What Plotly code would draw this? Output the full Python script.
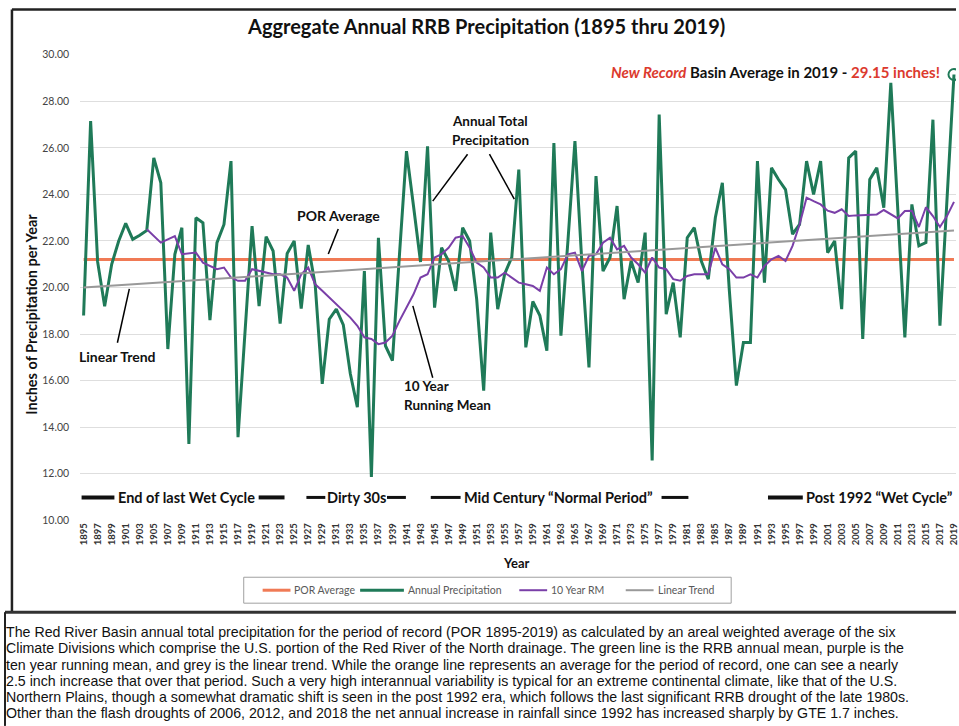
import plotly.graph_objects as go

# Red River Basin annual precipitation (inches)
YEARS = list(range(1895, 2020))
PRECIP = [
    18.8, 27.15, 21.1, 19.2, 21.0,
    22.0, 22.76, 22.07, 22.25, 22.45, 25.57, 24.5, 17.36, 21.43, 22.57,
    13.28, 23.0, 22.78, 18.6, 21.93, 22.71, 25.43, 13.57, 18.3, 22.64,
    19.2, 22.19, 21.57, 18.45, 21.46, 22.0, 19.1, 21.83, 20.1, 15.86,
    18.64, 19.07, 18.4, 16.3, 14.86, 20.71, 11.86, 22.14, 17.5, 16.86,
    21.4, 25.86, 23.5, 21.1, 26.07, 19.14, 21.71, 21.14, 19.86, 22.57,
    22.0, 19.5, 15.57, 22.36, 19.07, 20.6, 21.3, 25.07, 17.43, 19.4,
    18.8, 17.29, 26.21, 17.93, 22.0, 26.29, 21.0, 16.57, 24.79, 20.71,
    21.29, 23.5, 19.5, 21.14, 20.21, 22.36, 12.57, 27.43, 18.86, 20.21,
    17.86, 22.14, 22.57, 21.14, 20.36, 23.0, 24.5, 19.86, 15.79, 17.64,
    17.64, 25.43, 20.21, 25.14, 24.64, 24.21, 22.29, 22.71, 25.43, 24.0,
    25.43, 21.5, 22.0, 19.07, 25.57, 25.86, 17.79, 24.64, 25.14, 23.43,
    28.79, 23.5, 17.86, 23.57, 21.79, 21.93, 27.21, 18.36, 23.6, 29.15,
]

# 10 year running mean (starts 1904)
RM_YEARS = list(range(1904, 2020))
RM_10YR = [
    22.5, 22.2, 21.93, 22.07, 22.21, 21.43,
    21.46, 21.5, 21.07, 20.93, 20.79, 20.86, 20.43, 20.29, 20.29, 20.79,
    20.71, 20.64, 20.57, 20.57, 20.43, 19.86, 20.57, 20.86, 20.14, 19.86,
    19.57, 19.29, 19.0, 18.71, 18.36, 17.86, 17.79, 17.57, 17.64, 17.93,
    18.57, 19.14, 19.71, 20.43, 20.57, 21.29, 21.43, 21.71, 22.14, 22.21,
    21.71, 21.07, 20.86, 20.43, 20.43, 20.64, 20.43, 20.21, 20.14, 20.07,
    19.86, 20.86, 20.57, 20.79, 21.43, 21.5, 20.71, 21.36, 21.43, 21.93,
    22.14, 21.64, 21.79, 21.29, 21.0, 20.64, 21.29, 20.86, 20.79, 20.36,
    20.29, 20.5, 20.57, 20.57, 20.57, 21.71, 21.0, 20.79, 20.43, 20.43,
    20.57, 20.43, 20.93, 21.21, 21.36, 21.14, 21.79, 22.71, 23.86, 23.71,
    23.57, 23.3, 23.21, 23.36, 23.07, 23.1, 23.11, 23.14, 23.14, 23.33,
    23.14, 22.97, 23.29, 23.3, 22.6, 23.45, 23.07, 22.6, 23.07, 23.68,
]

POR_YEARS = [1895, 2019]
POR_AVG = [21.2, 21.2]
TREND_YEARS = [1895, 2019]
TREND_VALUES = [20.0, 22.45]

TICK_YEARS = YEARS[::2]
TICK_TEXT = [str(y) for y in TICK_YEARS]

CAPTION = [
    "The Red River Basin annual total precipitation for the period of record (POR 1895-2019) as calculated by an areal weighted average of the six",
    "Climate Divisions which comprise the U.S. portion of the Red River of the North drainage. The green line is the RRB annual mean, purple is the",
    "ten year running mean, and grey is the linear trend. While the orange line represents an average for the period of record, one can see a nearly",
    "2.5 inch increase that over that period. Such a very high interannual variability is typical for an extreme continental climate, like that of the U.S.",
    "Northern Plains, though a somewhat dramatic shift is seen in the post 1992 era, which follows the last significant RRB drought of the late 1980s.",
    "Other than the flash droughts of 2006, 2012, and 2018 the net annual increase in rainfall since 1992 has increased sharply by GTE 1.7 inches.",
]

W, H = 959, 726
FONT = "Lato, 'Open Sans', sans-serif"
CAPTION_FONT = "'Liberation Sans', Arial, sans-serif"
GREEN = "#1f7a58"
ORANGE = "#f07a55"
PURPLE = "#7a3fa8"
GREY = "#999999"
RED = "#dc3a2e"

# the photographed page came out slightly squashed vertically, undo it
SQ, OFF = 0.9857, 4.46


def px(x):
    return x / W


def py(y):
    return 1 - ((y - OFF) / SQ) / H


fig = go.Figure()

fig.add_trace(go.Scatter(x=POR_YEARS, y=POR_AVG, mode="lines", name="POR Average",
                         line=dict(color=ORANGE, width=3)))
fig.add_trace(go.Scatter(x=YEARS, y=PRECIP, mode="lines", name="Annual Precipitation",
                         line=dict(color=GREEN, width=3)))
fig.add_trace(go.Scatter(x=RM_YEARS, y=RM_10YR, mode="lines", name="10 Year RM",
                         line=dict(color=PURPLE, width=2)))
fig.add_trace(go.Scatter(x=TREND_YEARS, y=TREND_VALUES, mode="lines", name="Linear Trend",
                         line=dict(color=GREY, width=2)))
# circle on the record year
fig.add_trace(go.Scatter(x=YEARS[-1:], y=PRECIP[-1:], mode="markers", showlegend=False,
                         marker=dict(symbol="circle-open", size=11, color=GREEN,
                                     line=dict(width=2, color=GREEN))))

shapes = []


def seg(x0, y0, x1, y1, width=1.5, color="black"):
    shapes.append(dict(type="line", xref="paper", yref="paper",
                       x0=px(x0), y0=py(y0), x1=px(x1), y1=py(y1),
                       line=dict(color=color, width=width)))


# frame
seg(10, 8, 959, 8, 2.5, "#222")
seg(10, 8, 10, 612, 2.5, "#222")
seg(3, 612, 959, 612, 3, "#333")
seg(3, 612, 3, 726, 2, "#222")

# pointer lines
seg(468, 153, 433, 200)
seg(490, 153, 515, 198)
seg(338, 228, 328, 253)
seg(128, 288, 116, 342)
seg(413, 305, 433, 377)

# period bars
for x0, x1, w in [(80, 113, 4), (258, 284, 4), (306, 325, 3), (387, 406, 3),
                  (431, 461, 3), (663, 690, 3), (770, 805, 4)]:
    seg(x0, 497, x1, 497, w, "#111")

annotations = []


def label(text, x, y, size=12, anchor="left", bold=True, color="#111", angle=0, family=FONT):
    annotations.append(dict(text=text, xref="paper", yref="paper", x=px(x), y=py(y),
                            xanchor=anchor, yanchor="middle", showarrow=False,
                            textangle=angle,
                            font=dict(family=family, size=size, color=color,
                                      weight="bold" if bold else "normal")))


label("Aggregate Annual RRB Precipitation (1895 thru 2019)", 487, 25, 20, "center")
label("<i><span style='color:%s'>New Record</span></i> Basin Average in 2019 - "
      "<span style='color:%s'>29.15 inches!</span>" % (RED, RED), 945, 71, 15, "right")
label("Annual Total", 491, 120, 13.5, "center")
label("Precipitation", 491, 139, 13.5, "center")
label("POR Average", 338, 214, 14, "center")
label("Linear Trend", 75, 356, 14)
label("10 Year", 402, 385, 13.5)
label("Running Mean", 402, 404, 13.5)
label("End of last Wet Cycle", 115, 497, 14.5)
label("Dirty 30s", 325, 497, 14.5)
label("Mid Century “Normal Period”", 462, 497, 14.5)
label("Post 1992 “Wet Cycle”", 806, 497, 14.5)
label("Inches of Precipitation per Year", 30, 313, 14.5, "center", angle=-90)
label("Year", 517, 563, 13, "center")

# legend, drawn by hand to keep Excel's spacing
shapes.append(dict(type="rect", xref="paper", yref="paper",
                   x0=px(243), y0=py(603), x1=px(733), y1=py(577),
                   line=dict(color="#a0a0a0", width=1), fillcolor="white"))
for name, color, width, x0, x1 in [("POR Average", ORANGE, 3, 262, 290),
                                   ("Annual Precipitation", GREEN, 3, 360, 404),
                                   ("10 Year RM", PURPLE, 2, 520, 548),
                                   ("Linear Trend", GREY, 2, 627, 655)]:
    seg(x0, 590, x1, 590, width, color)
    label(name, x1 + 2, 590, 10.5, bold=False, color="#595959")

for i, line in enumerate(CAPTION):
    label(line, 2, 632 + i * 16.3, 14.2, bold=False, family=CAPTION_FONT)

fig.update_layout(
    width=W, height=H,
    margin=dict(l=0, r=0, t=0, b=0),
    paper_bgcolor="white", plot_bgcolor="white",
    shapes=shapes, annotations=annotations,
    font=dict(family=FONT),
    showlegend=False,
    xaxis=dict(domain=[px(78.5), 1], range=[1894.5, 1894.5 + (W - 78.5) / 7.056],
               tickvals=TICK_YEARS, ticktext=TICK_TEXT, tickangle=-90,
               tickfont=dict(family=FONT, size=9.5, color="#333", weight="bold"),
               ticklabeloverflow="allow",
               showgrid=False, zeroline=False, showline=False, ticks=""),
    yaxis=dict(domain=[py(520), py(53.3)], range=[10, 30], dtick=2, tickformat=".2f",
               tickfont=dict(family=FONT, size=10.5, color="#444"),
               gridcolor="#dedede", gridwidth=1, zeroline=False, showline=False,
               ticklabelstandoff=10),
)

# the page body has an 8px default margin; drop it so the figure sits at 0,0
fig.write_html("out.html", config={"displayModeBar": False},
               post_script="document.body.style.margin='0px';")
